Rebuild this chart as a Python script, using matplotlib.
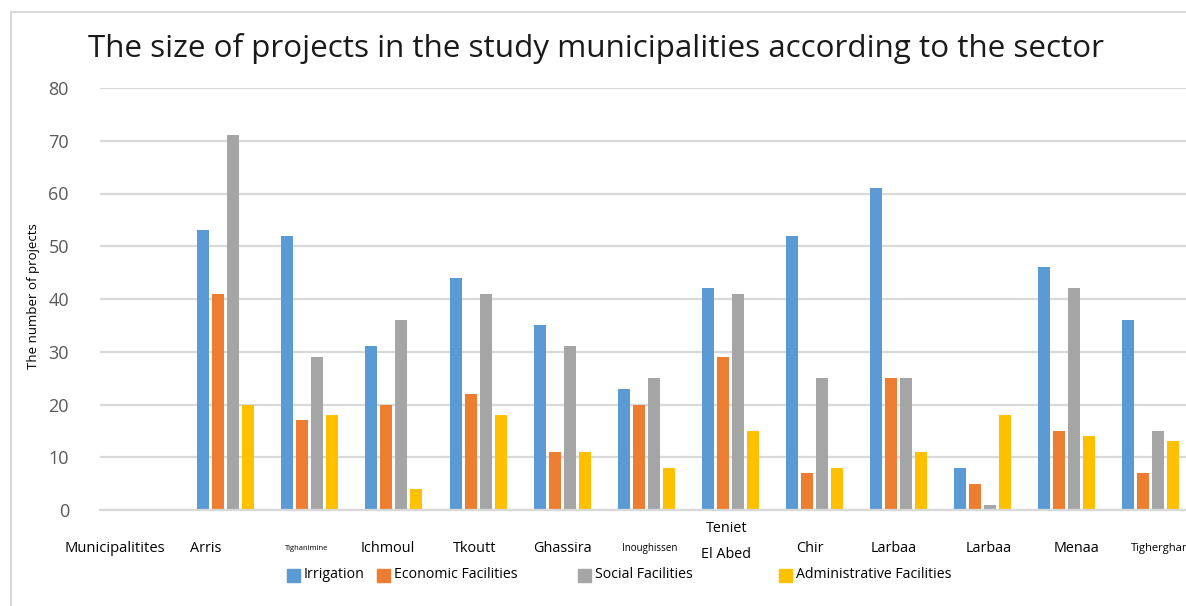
import numpy as np
import matplotlib
matplotlib.use("Agg")
import matplotlib.pyplot as plt
from matplotlib.transforms import blended_transform_factory, ScaledTranslation
from matplotlib.lines import Line2D
from matplotlib.patches import Rectangle

# ---- data -------------------------------------------------------------
municipalities = ["Municipalitites", "Arris", "Tighanimine", "Ichmoul", "Tkoutt",
                  "Ghassira", "Inoughissen", "Teniet\nEl Abed", "Chir", "Larbaa",
                  "Larbaa", "Menaa", "Tigherghar"]
irrigation = [np.nan, 53, 52, 31, 44, 35, 23, 42, 52, 61, 8, 46, 36]
economic = [np.nan, 41, 17, 20, 22, 11, 20, 29, 7, 25, 5, 15, 7]
social = [np.nan, 71, 29, 36, 41, 31, 25, 41, 25, 25, 1, 42, 15]
administrative = [np.nan, 20, 18, 4, 18, 11, 8, 15, 8, 11, 18, 14, 13]
series_names = ["Irrigation", "Economic Facilities", "Social Facilities",
                "Administrative Facilities"]
y_ticks = [0, 10, 20, 30, 40, 50, 60, 70, 80]

# ---- styling ----------------------------------------------------------
colors = ["#5B9BD5", "#ED7D31", "#A5A5A5", "#FFC000"]
label_sizes = [10.6, 10.4, 5.5, 10.4, 10.4, 10.4, 7, 10.4, 10.4, 10.4, 10.4, 10.4, 8]
label_shift_px = [-27, -20, -3, -6, -3, 0, 3, -4, -5, -5, 6, 10, 8]
FONT = "Open Sans"

W, H = 1186, 606
fig = plt.figure(figsize=(W / 100, H / 100), dpi=100)
fig.patch.set_facecolor("white")


def fx(px):
    return px / W


def fy(py):
    return (H - py) / H


# plot area (extends past the right edge of the canvas)
left_px, right_px = 99.5, 1193
top_px, bot_px = 88, 510
ax = fig.add_axes([fx(left_px), fy(bot_px), fx(right_px - left_px),
                   (bot_px - top_px) / H])

n = len(municipalities)
x = np.arange(n)
pitch = 15 / 84.1
width = 12 / 84.1
for k, vals in enumerate([irrigation, economic, social, administrative]):
    ax.bar(x + (k - 1.5) * pitch, vals, width=width, color=colors[k],
           zorder=3, label=series_names[k])

ax.set_xlim(-0.5, n - 0.5)
ax.set_ylim(0, 80)
ax.set_yticks(y_ticks)
ax.set_yticklabels([str(t) for t in y_ticks], fontsize=13, color="#595959",
                   fontfamily=FONT)
ax.tick_params(axis="y", length=0, pad=22)
ax.tick_params(axis="x", length=0, labelbottom=False)
ax.grid(axis="y", color="#D9D9D9", linewidth=1.6, zorder=0)
for s in ["top", "right", "left"]:
    ax.spines[s].set_visible(False)
ax.spines["bottom"].set_color("#D9D9D9")
ax.spines["bottom"].set_linewidth(1.6)
ax.spines["bottom"].set_zorder(4)

# category labels under the axis
trans = blended_transform_factory(ax.transData, fig.transFigure)
for i, name in enumerate(municipalities):
    t = trans + ScaledTranslation(label_shift_px[i] / 100, 0, fig.dpi_scale_trans)
    if "\n" in name:
        ax.text(i, fy(541), name, transform=t, ha="center", va="center",
                fontsize=label_sizes[i], fontfamily=FONT, color="#000000",
                linespacing=2.0)
    else:
        ax.text(i, fy(549), name, transform=t, ha="center", va="center",
                fontsize=label_sizes[i], fontfamily=FONT, color="#000000")

# y-axis title
fig.text(fx(34), fy(296), "The number of projects", rotation=90, ha="center",
         va="center", fontsize=9.5, fontfamily=FONT, color="#000000")

# chart title, scaled to span its box
title = fig.text(fx(88), fy(57), "The size of projects in the study "
                 "municipalities according to the sector", ha="left",
                 va="baseline", fontsize=20, fontfamily=FONT, color="#1a1a1a")
fig.canvas.draw()
bb = title.get_window_extent(fig.canvas.get_renderer())
title.set_fontsize(20 * (1100 - 88) / bb.width)

# legend entries
legend_items = [(287, series_names[0]), (377, series_names[1]),
                (578, series_names[2]), (779, series_names[3])]
for k, (px, name) in enumerate(legend_items):
    fig.patches.append(Rectangle((fx(px), fy(582)), fx(13), 13 / H,
                                 transform=fig.transFigure, color=colors[k]))
    fig.text(fx(px + 17), fy(575), name, ha="left", va="center",
             fontsize=10.2, fontfamily=FONT, color="#000000")

# chart frame
fig.add_artist(Line2D([fx(11), fx(11)], [fy(12), fy(H + 5)],
                      transform=fig.transFigure, color="#D9D9D9", linewidth=1.5))
fig.add_artist(Line2D([fx(11), fx(W + 5)], [fy(12), fy(12)],
                      transform=fig.transFigure, color="#D9D9D9", linewidth=1.5))

fig.savefig("out.png", dpi=100, facecolor="white")
